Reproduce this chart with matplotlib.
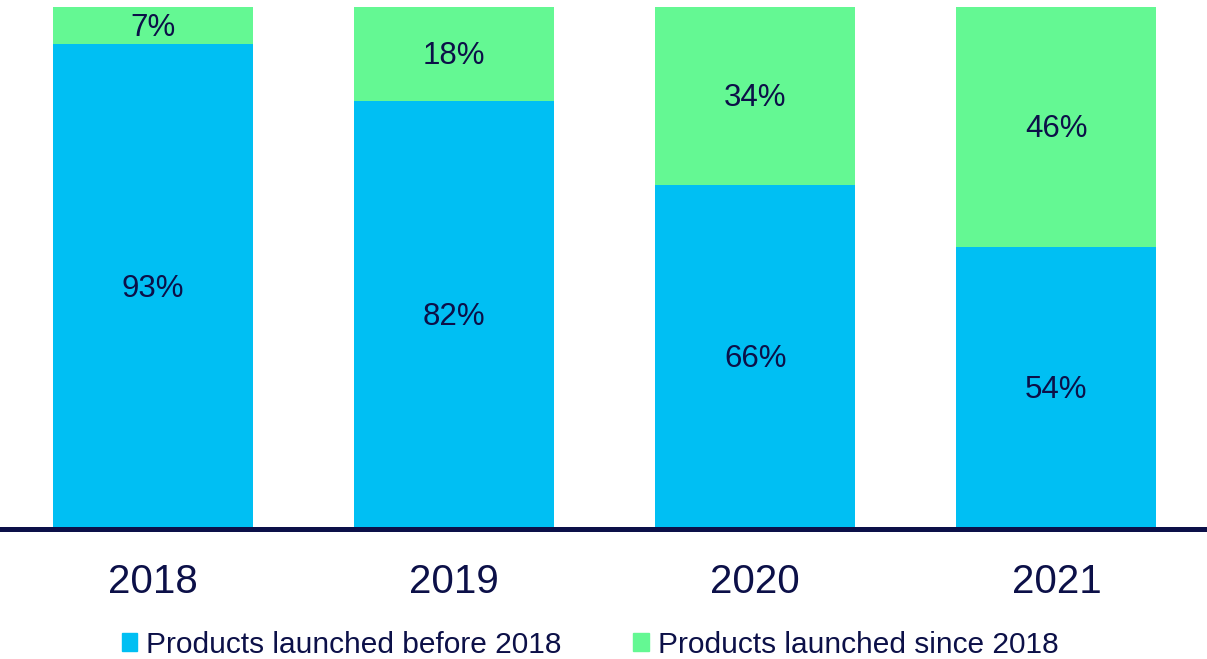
import matplotlib.pyplot as plt
from matplotlib.patches import Patch
import numpy as np

plt.rcParams['font.family'] = ['Liberation Sans', 'DejaVu Sans']

years = ['2018', '2019', '2020', '2021']
before_2018 = [93, 82, 66, 54]
since_2018 = [7, 18, 34, 46]
series_names = ['Products launched before 2018', 'Products launched since 2018']

BLUE = '#00BFF3'
GREEN = '#64F893'
NAVY = '#0C1048'

fig = plt.figure(figsize=(12.07, 6.59), dpi=100)
ax = fig.add_axes([0.002, 0.197, 0.998, 0.792])

x = np.arange(len(years))
width = 0.664
b1 = ax.bar(x, before_2018, width, color=BLUE)
b2 = ax.bar(x, since_2018, width, bottom=before_2018, color=GREEN)

# value labels centred in each segment
for bars, vals, bottoms in [(b1, before_2018, [0] * 4), (b2, since_2018, before_2018)]:
    for rect, v, b in zip(bars, vals, bottoms):
        ax.annotate(f'{v}%', (rect.get_x() + rect.get_width() / 2, b + v / 2),
                    xytext=(0, -1.5), textcoords='offset points',
                    ha='center', va='center', fontsize=22.5, color=NAVY)

ax.set_xlim(-0.5, 3.5)
ax.set_ylim(0, 100)
ax.set_xticks(x)
ax.set_xticklabels(years, fontsize=29, color=NAVY)
ax.tick_params(axis='x', length=0, pad=24)
ax.set_yticks([])
for side in ['top', 'right', 'left']:
    ax.spines[side].set_visible(False)
ax.spines['bottom'].set_color(NAVY)
ax.spines['bottom'].set_linewidth(3.6)

handles = [Patch(color=BLUE), Patch(color=GREEN)]
fig.legend(handles, series_names, loc='center', bbox_to_anchor=(0.489, 0.022),
           ncol=2, frameon=False, fontsize=21.5, labelcolor=NAVY,
           handlelength=0.53, handleheight=0.53, handletextpad=0.3, columnspacing=2.4,
           borderpad=0)

fig.savefig('out.png', dpi=100)
